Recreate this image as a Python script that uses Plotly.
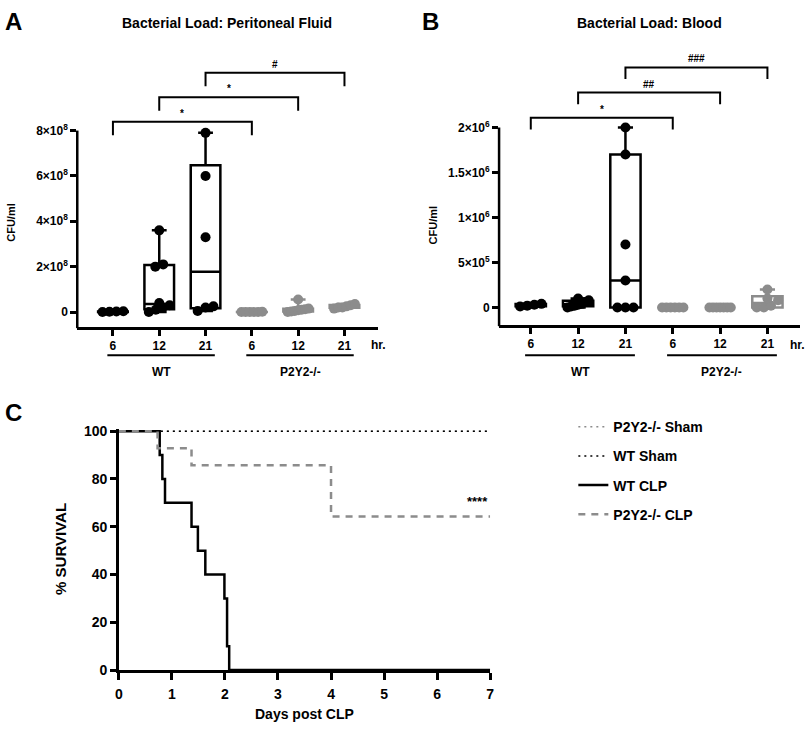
import numpy as np
import plotly.graph_objects as go

W, H = 812, 734
FONT = 'Liberation Sans, Arial, sans-serif'
BLACK = '#000000'
GREY = '#8c8c8c'

# ---------------- data ----------------
hours = ['6', '12', '21']
groups = ['WT', 'P2Y2-/-']

# A: bacterial load, peritoneal fluid (CFU/ml)
pf_wt_6 = [0, 1e6, 2e6, 3e6]
pf_wt_12 = [0, 1e7, 2e7, 3e7, 4e7, 2.0e8, 2.1e8, 3.6e8]
pf_wt_21 = [5e6, 2e7, 2.5e7, 3.3e8, 6.0e8, 7.9e8]
pf_ko_6 = [0, 0, 0, 0, 0, 1e6]
pf_ko_12 = [0, 2e6, 5e6, 8e6, 1e7, 1.2e7, 1.5e7, 5.5e7]
pf_ko_21 = [1.5e7, 2e7, 2e7, 2.5e7, 3e7, 3.5e7]

# B: bacterial load, blood (CFU/ml)
bl_wt_6 = [1e4, 2e4, 3e4, 4e4]
bl_wt_12 = [0, 1e4, 2e4, 3e4, 4e4, 6e4, 8e4, 1e5]
bl_wt_21 = [0, 0, 0, 3e5, 7e5, 1.7e6, 2.0e6]
bl_ko_6 = [0, 0, 0, 0, 0, 0]
bl_ko_12 = [0, 0, 0, 0, 0, 0, 0]
bl_ko_21 = [0, 0, 2e4, 8e4, 1e5, 2e5]

pf_ticks = [0, 2e8, 4e8, 6e8, 8e8]
pf_ticktext = ['0', '2×10<sup>8</sup>', '4×10<sup>8</sup>', '6×10<sup>8</sup>', '8×10<sup>8</sup>']
bl_ticks = [0, 5e5, 1e6, 1.5e6, 2e6]
bl_ticktext = ['0', '5×10<sup>5</sup>', '1×10<sup>6</sup>', '1.5×10<sup>6</sup>', '2×10<sup>6</sup>']

pf_brackets = [(0, 3, '*'), (1, 4, '*'), (2, 5, '#')]
bl_brackets = [(0, 3, '*'), (1, 4, '##'), (2, 5, '###')]

# C: survival (%)
days_wt_clp = [0, 0.77, 0.82, 0.87, 1.37, 1.49, 1.63, 1.99, 2.04, 2.08, 7]
surv_wt_clp = [100, 90, 80, 70, 60, 50, 40, 30, 10, 0, 0]
days_ko_clp = [0, 0.73, 1.37, 4.0, 7]
surv_ko_clp = [100, 92.9, 85.7, 64.3, 64.3]
days_sham = [0, 7]
surv_sham = [100, 100]


def px(x):
    return x / W


def py(y):
    return 1 - y / H


def bold(size):
    return dict(size=size, family=FONT, color=BLACK, weight='bold')


def label(x, y, text, size, **kw):
    # text placed in page pixels, centred on (x, y)
    d = dict(x=px(x), y=py(y), xref='paper', yref='paper', text=text, showarrow=False,
             xanchor='center', yanchor='middle', font=bold(size))
    d.update(kw)
    return d


def swarm(vals, ppu, diam=10, maxw=0.45, step=0.17):
    # spread points that would overlap, like a simple beeswarm
    vals = np.asarray(vals, float)
    order = np.argsort(vals, kind='stable')
    offs = np.zeros(len(vals))
    clusters, cur = [], [order[0]]
    for i in order[1:]:
        if (vals[i] - vals[cur[0]]) * ppu < 0.8 * diam:
            cur.append(i)
        else:
            clusters.append(cur)
            cur = [i]
    clusters.append(cur)
    for c in clusters:
        k = len(c)
        if k > 1:
            s = min(step, maxw / (k - 1))
            offs[c] = (np.arange(k) - (k - 1) / 2) * s
    return offs


fig = go.Figure()

panels = [
    dict(xa='x', ya='y', sets=[pf_wt_6, pf_wt_12, pf_wt_21, pf_ko_6, pf_ko_12, pf_ko_21],
         xdom=[px(74), px(378)], ydom=[py(327), py(50)], xr=[-0.77, 5.73], yr=[-0.65e8, 11.33e8],
         ticks=pf_ticks, ticktext=pf_ticktext, brackets=pf_brackets,
         base=8.39e8, bstep=1.08e8, leg=0.6e8, title='Bacterial Load: Peritoneal Fluid',
         tx=225, letter='A', lx=10, ylab_x=7, ylab_y=220, hr_x=388),
    dict(xa='x2', ya='y2', sets=[bl_wt_6, bl_wt_12, bl_wt_21, bl_ko_6, bl_ko_12, bl_ko_21],
         xdom=[px(500), px(804)], ydom=[py(325), py(45)], xr=[-0.67, 5.69], yr=[-0.193e6, 2.86e6],
         ticks=bl_ticks, ticktext=bl_ticktext, brackets=bl_brackets,
         base=2.108e6, bstep=0.28e6, leg=0.13e6, title='Bacterial Load: Blood',
         tx=652, letter='B', lx=431, ylab_x=433, ylab_y=223, hr_x=811),
]

shapes = []
annotations = []
axes = {}

for p in panels:
    dom_h = (p['ydom'][1] - p['ydom'][0]) * H
    ppu = dom_h / (p['yr'][1] - p['yr'][0])
    for i, vals in enumerate(p['sets']):
        col = BLACK if i < 3 else GREY
        q1, med, q3 = np.percentile(vals, [25, 50, 75], method='weibull')
        fig.add_trace(go.Box(
            x=[i], q1=[q1], median=[med], q3=[q3],
            lowerfence=[min(vals)], upperfence=[max(vals)],
            width=0.64, whiskerwidth=0.5, boxpoints=False,
            line=dict(color=col, width=2.5), fillcolor='rgba(0,0,0,0)',
            xaxis=p['xa'], yaxis=p['ya'], showlegend=False, hoverinfo='skip'))
        fig.add_trace(go.Scatter(
            x=i + swarm(vals, ppu), y=vals, mode='markers',
            marker=dict(size=10, color=col), cliponaxis=False,
            xaxis=p['xa'], yaxis=p['ya'], showlegend=False))

    # significance brackets
    for k, (a, b, lab) in enumerate(p['brackets']):
        yt = p['base'] + k * p['bstep']
        yb = yt - p['leg']
        shapes.append(dict(type='path', xref=p['xa'], yref=p['ya'],
                           path=f'M {a},{yb} L {a},{yt} L {b},{yt} L {b},{yb}',
                           line=dict(color=BLACK, width=2)))
        annotations.append(dict(x=(a + b) / 2, y=yt, xref=p['xa'], yref=p['ya'],
                                text=lab, showarrow=False, xanchor='center',
                                yanchor='bottom', yshift=1, font=bold(10)))

    # y axis line running from the bottom to the top tick only
    y_top = (p['ticks'][-1] - p['yr'][0]) / (p['yr'][1] - p['yr'][0])
    shapes.append(dict(type='line', xref=p['xa'] + ' domain', yref=p['ya'] + ' domain',
                       x0=0, x1=0, y0=-0.005, y1=y_top, line=dict(color=BLACK, width=2.5)))

    # group underlines and labels
    for g, (a, b) in enumerate([(0, 2), (3, 5)]):
        x0, x1 = a - 0.12, b + 0.2
        shapes.append(dict(type='line', xref=p['xa'], yref='paper', x0=x0, x1=x1,
                           y0=py(356), y1=py(356), line=dict(color=BLACK, width=2)))
        annotations.append(dict(x=(x0 + x1) / 2, y=py(373), xref=p['xa'], yref='paper',
                                text=groups[g], showarrow=False, xanchor='center',
                                yanchor='middle', font=bold(12)))

    annotations += [
        label(p['tx'], 17, p['title'], 14),
        label(p['lx'], 16, p['letter'], 24),
        label(p['ylab_x'], p['ylab_y'], 'CFU/ml', 11, textangle=-90),
        label(p['hr_x'], 346, 'hr.', 12, xanchor='right'),
    ]

    xkey = 'xaxis' + p['xa'][1:]
    ykey = 'yaxis' + p['ya'][1:]
    axes[xkey] = dict(domain=p['xdom'], range=p['xr'], anchor=p['ya'],
                      tickvals=list(range(6)), ticktext=hours * 2,
                      showline=True, linewidth=2.5, linecolor=BLACK,
                      ticks='outside', ticklen=6, tickwidth=2.5, tickcolor=BLACK,
                      showgrid=False, zeroline=False, tickfont=bold(12))
    axes[ykey] = dict(domain=p['ydom'], range=p['yr'], anchor=p['xa'],
                      tickvals=p['ticks'], ticktext=p['ticktext'],
                      showline=False, ticks='outside', ticklen=6, tickwidth=2.5,
                      tickcolor=BLACK, showgrid=False, zeroline=False, tickfont=bold(12))

# ---------------- panel C: survival ----------------
fig.add_trace(go.Scatter(x=days_sham, y=surv_sham, name='P2Y2-/- Sham', mode='lines',
                         line=dict(color=GREY, width=1.5, dash='2px,4px'),
                         xaxis='x3', yaxis='y3', legendgroup='a'))
fig.add_trace(go.Scatter(x=days_sham, y=surv_sham, name='WT Sham', mode='lines',
                         line=dict(color=BLACK, width=1.5, dash='2px,4px'),
                         xaxis='x3', yaxis='y3', legendgroup='b'))
fig.add_trace(go.Scatter(x=days_wt_clp, y=surv_wt_clp, name='WT CLP', mode='lines',
                         line=dict(color=BLACK, width=2.5, shape='hv'),
                         xaxis='x3', yaxis='y3', legendgroup='c'))
fig.add_trace(go.Scatter(x=days_ko_clp, y=surv_ko_clp, name='P2Y2-/- CLP', mode='lines',
                         line=dict(color=GREY, width=2.5, shape='hv', dash='7px,6px'),
                         xaxis='x3', yaxis='y3', legendgroup='d'))

annotations += [
    dict(x=7, y=70.5, xref='x3', yref='y3', text='****', showarrow=False, xanchor='right',
         yanchor='middle', font=bold(13)),
    label(10, 414, 'C', 24),
    label(57, 553, '% SURVIVAL', 15, textangle=-90),
    label(303, 722, 'Days post CLP', 14),
]

axes['xaxis3'] = dict(domain=[px(116), px(491)], range=[0, 7], anchor='y3',
                      tickvals=list(range(8)), showline=True, linewidth=2.5, linecolor=BLACK,
                      ticks='outside', ticklen=7, tickwidth=2.5, tickcolor=BLACK,
                      ticklabelstandoff=2, showgrid=False, zeroline=False, tickfont=bold(14))
axes['yaxis3'] = dict(domain=[py(677), py(431)], range=[0, 101], anchor='x3',
                      tickvals=[0, 20, 40, 60, 80, 100], showline=True, linewidth=2.5,
                      linecolor=BLACK, ticks='outside', ticklen=6, tickwidth=2.5,
                      tickcolor=BLACK, showgrid=False, zeroline=False, tickfont=bold(14))

fig.update_layout(
    width=W, height=H, margin=dict(l=0, r=0, t=0, b=0),
    paper_bgcolor='white', plot_bgcolor='white',
    font=dict(family=FONT, color=BLACK, weight='bold'),
    shapes=shapes, annotations=annotations,
    showlegend=True,
    legend=dict(x=px(575), y=py(413), xanchor='left', yanchor='top',
                traceorder='grouped', tracegroupgap=8, bgcolor='rgba(0,0,0,0)',
                font=bold(14)),
    **axes,
)

# drop the page's default body margin so the figure sits at the window's corner
fig.write_html('out.html', config={'displayModeBar': False},
               post_script="document.body.style.margin='0';")
